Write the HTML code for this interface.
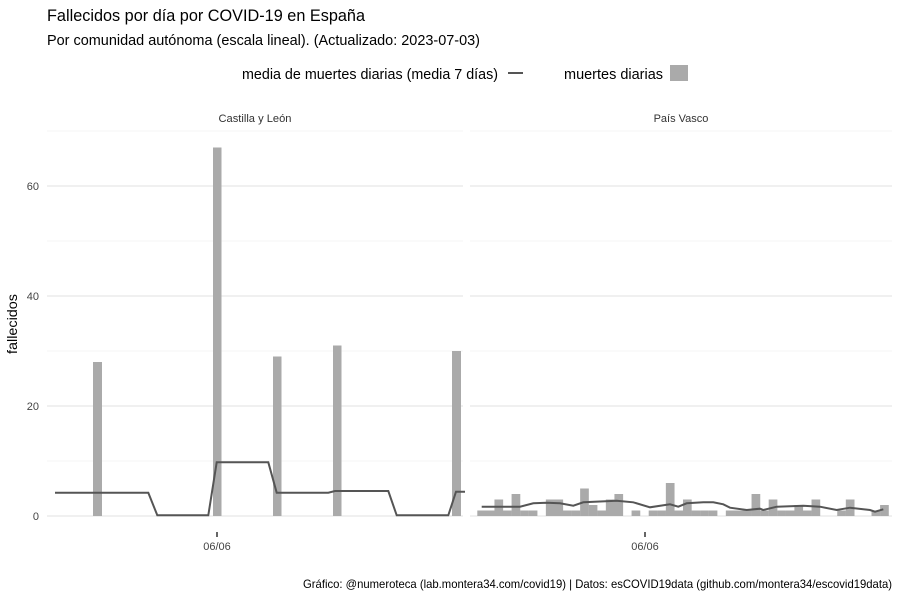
<!DOCTYPE html>
<html><head><meta charset="utf-8"><style>
body{margin:0;background:#fff}
svg{display:block;font-family:"Liberation Sans Narrow","Liberation Sans",sans-serif}
</style></head><body>
<svg width="900" height="600" viewBox="0 0 900 600" xmlns="http://www.w3.org/2000/svg">
<rect width="900" height="600" fill="#fff"/>
<text x="47" y="21" font-size="17" fill="#000" textLength="318" lengthAdjust="spacingAndGlyphs">Fallecidos por día por COVID-19 en España</text>
<text x="47" y="45" font-size="14.5" fill="#000" textLength="433" lengthAdjust="spacingAndGlyphs">Por comunidad autónoma (escala lineal). (Actualizado: 2023-07-03)</text>
<text x="242" y="79" font-size="14.5" fill="#000" textLength="256" lengthAdjust="spacingAndGlyphs">media de muertes diarias (media 7 días)</text>
<line x1="508" y1="73" x2="523" y2="73" stroke="#555" stroke-width="2"/>
<text x="564" y="79" font-size="14.5" fill="#000" textLength="99" lengthAdjust="spacingAndGlyphs">muertes diarias</text>
<rect x="670" y="65" width="18" height="16" fill="#aaa"/>
<text x="255" y="122" font-size="11" text-anchor="middle" fill="#333" textLength="73" lengthAdjust="spacingAndGlyphs">Castilla y León</text>
<text x="681" y="122" font-size="11" text-anchor="middle" fill="#333">País Vasco</text>
<g stroke="#f4f4f4" stroke-width="1">
<line x1="47" x2="463" y1="131" y2="131"/><line x1="47" x2="463" y1="241" y2="241"/><line x1="47" x2="463" y1="351" y2="351"/><line x1="47" x2="463" y1="461" y2="461"/>
<line x1="470" x2="892" y1="131" y2="131"/><line x1="470" x2="892" y1="241" y2="241"/><line x1="470" x2="892" y1="351" y2="351"/><line x1="470" x2="892" y1="461" y2="461"/>
</g>
<g stroke="#e8e8e8" stroke-width="1.2">
<line x1="47" x2="463" y1="186" y2="186"/><line x1="47" x2="463" y1="296" y2="296"/><line x1="47" x2="463" y1="406" y2="406"/><line x1="47" x2="463" y1="516" y2="516"/>
<line x1="470" x2="892" y1="186" y2="186"/><line x1="470" x2="892" y1="296" y2="296"/><line x1="470" x2="892" y1="406" y2="406"/><line x1="470" x2="892" y1="516" y2="516"/>
</g>
<g fill="#aaa">
<rect x="93" y="362" width="9" height="154"/>
<rect x="213" y="147.5" width="8.5" height="368.5"/>
<rect x="273" y="356.5" width="8.5" height="159.5"/>
<rect x="333" y="345.5" width="8.5" height="170.5"/>
<rect x="452" y="351" width="9" height="165"/>
</g>
<g id="pv" fill="#aaa"></g>
<polyline fill="none" stroke="#555" stroke-width="2" points="55,492.7 148.3,492.7 157.3,515.3 208.3,515.3 216.7,462.3 268.3,462.3 276.7,492.7 328.3,492.7 335,491 388.3,491 396.7,515.3 448.3,515.3 456,491.7 465,491.7"/>
<polyline fill="none" stroke="#555" stroke-width="2" points="481.7,506.7 520,506.7 533.3,503.3 546.7,502.7 560,503.3 573.3,505.7 583.3,502.3 616.7,500.7 633.3,502.3 650,507.3 670,504.3 678.3,506.7 686.7,503.3 703.3,502.3 713.3,502.3 723.3,504.3 730,507.7 746.7,510 760,508.7 763.3,510 776.7,506.7 803.3,505.7 820,506.7 836.7,510 850,507.7 870,510 875,511.7 883.3,509.3"/>
<g font-size="11" fill="#444" text-anchor="end">
<text x="39" y="520">0</text><text x="39" y="410">20</text><text x="39" y="300">40</text><text x="39" y="190">60</text>
</g>
<line x1="217" y1="532" x2="217" y2="537" stroke="#333" stroke-width="1.5"/>
<line x1="645" y1="532" x2="645" y2="537" stroke="#333" stroke-width="1.5"/>
<g font-size="11" fill="#444" text-anchor="middle">
<text x="217" y="550">06/06</text><text x="645" y="550">06/06</text>
</g>
<text transform="translate(17,324) rotate(-90)" font-size="14" text-anchor="middle" fill="#000" textLength="60" lengthAdjust="spacingAndGlyphs">fallecidos</text>
<text x="303" y="588" font-size="12" fill="#000" textLength="589" lengthAdjust="spacingAndGlyphs">Gráfico: @numeroteca (lab.montera34.com/covid19) | Datos: esCOVID19data (github.com/montera34/escovid19data)</text>
</svg>
<script>
var v=[1,1,3,1,4,1,1,0,3,3,1,1,5,2,1,3,4,0,1,0,1,1,6,1,3,1,1,1,0,1,1,1,4,1,3,1,1,2,1,3,0,0,1,3,0,0,1,2];
var g=document.getElementById('pv'),s='';
for(var i=0;i<v.length;i++){if(!v[i])continue;var x=477.3+8.57*i,h=v[i]*5.5;
s+='<rect xmlns="http://www.w3.org/2000/svg" x="'+x.toFixed(2)+'" y="'+(516-h)+'" width="8.7" height="'+h+'"/>';}
g.innerHTML=s;
</script>
</body></html>
